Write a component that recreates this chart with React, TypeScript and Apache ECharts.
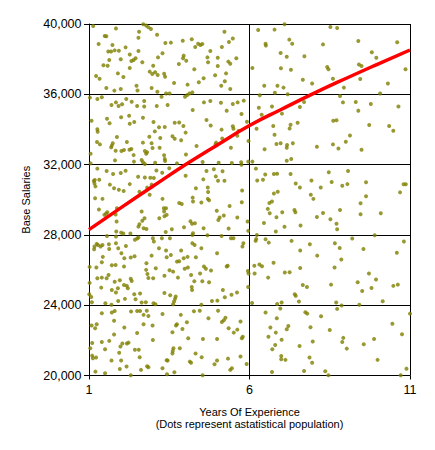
import React, { useEffect, useRef } from "react";
import * as echarts from "echarts";

// ---- axis settings / tick labels ----
const xTicks = [1, 6, 11];
const yTicks = [20000, 24000, 28000, 32000, 36000, 40000];

// ---- scatter population: [years of experience, base salary] ----
const dotsLeftBand1: number[][] = [
  [1.13,39890],[1.84,39750],[2.69,39980],[2.78,39910],[2.85,39810],[2.93,39720],[2.56,39560],[3.12,39390],[1.49,39320],[1.54,39300],[2.54,39220],[5.22,39560],[5.48,39170],[5.36,38980],[4.20,39130],[3.92,39050],[3.38,38920],[3.55,38940],[1.30,38860],[1.73,38800],[4.40,38880],[4.47,38800],[4.53,38860],[4.31,38690],[5.14,38690],[2.14,38670],[1.93,38480],[1.80,38500],[1.60,38430],[1.69,38430],[2.54,38460],[4.78,38460],[3.29,38330],[2.27,38270],[3.95,38200],[3.93,38050],[4.03,37910],[3.15,38100],[4.69,38100],[5.01,38080],[5.59,38050],[1.63,37950],[1.99,37990],[2.45,38050],[2.39,37950],[2.32,37890],[5.34,37860],[5.40,37740],[4.71,37820],[3.80,37720],[2.66,37820],[1.45,37650],[1.58,37630],[3.00,37630],[5.01,37610],[2.27,37500],[4.28,37420],[2.89,37290],[2.97,37150],[3.06,37250],[3.14,37100],[3.34,37170],[3.37,37000],[1.90,37190],[5.27,37190],[4.93,37080],[1.22,37040],[1.33,36890],[2.07,36980],[4.57,36910],[4.42,36680],[3.65,36640],[5.23,36740],[5.12,36490],[2.48,36490],[4.07,36550],[1.54,36360],[1.99,36300],[2.51,36220],[2.95,36360],[1.79,36210],[3.13,36150],[3.40,36040],[3.51,36040],[5.40,36300],[4.22,36110],[4.13,36040],[4.06,35960],[3.99,35860]
];
const dotsLeftBand2: number[][] = [
  [1.03,35810],[1.26,35730],[1.40,35830],[2.16,35730],[3.26,35860],[2.33,35580],[2.72,35620],[1.84,35540],[1.92,35330],[1.70,35390],[2.03,35430],[2.50,35330],[2.72,35310],[3.11,35330],[3.45,35390],[4.58,35540],[4.78,35620],[5.11,35520],[5.48,35450],[5.63,35540],[5.82,35640],[4.23,35110],[5.29,35070],[5.75,34880],[1.08,34500],[1.56,34610],[1.64,34350],[2.00,34690],[2.25,34780],[2.27,34330],[2.41,34420],[2.68,34670],[3.01,34420],[3.18,34120],[3.36,34140],[3.67,34380],[3.81,34400],[3.94,34200],[4.01,33820],[4.66,34540],[4.79,34230],[5.13,33990],[5.48,34180],[5.50,34040],[5.66,33910],[5.62,33640],[5.92,34440],[1.26,34010],[1.27,33870],[1.87,33570],[2.88,33590],[3.05,33890],[3.60,33610],[3.67,33470],[3.87,33380],[1.25,33280],[1.34,33150],[1.74,33210],[1.71,33080],[1.69,32980],[2.18,33280],[2.68,33250],[2.95,33210],[3.22,33510],[4.96,33250],[4.94,33150],[5.15,33490],[4.35,33060],[1.05,32620],[1.83,32790],[2.01,32770],[2.09,32830],[2.26,32850],[2.32,32890],[2.39,32540],[2.74,32770],[2.78,32620],[2.81,32700],[2.98,32940],[3.20,32960],[3.34,32530],[3.36,32320],[4.02,32580],[5.42,32960],[1.05,32070],[1.81,32240],[2.40,32170],[2.64,32260],[2.68,32130],[2.74,32030],[3.06,32110],[3.37,32200],[3.74,32070],[4.54,32150],[5.04,32110],[5.45,32090],[5.74,32130],[5.75,31990],[5.96,32170],[5.97,33340]
];
const dotsLeftBand3: number[][] = [
  [1.26,31770],[1.55,31630],[2.14,31650],[1.99,31520],[1.75,31460],[2.53,31310],[2.74,31270],[2.91,31250],[3.02,31240],[3.10,31670],[3.28,31540],[3.50,31790],[4.01,31370],[4.66,31630],[4.89,31730],[5.16,31620],[4.95,31330],[4.56,31160],[5.22,31080],[5.02,31080],[1.18,31120],[1.15,31070],[1.17,30930],[1.32,31140],[1.20,30760],[1.65,30860],[1.78,30650],[1.93,30570],[2.08,30500],[2.27,30890],[2.57,30460],[2.81,30690],[2.95,30860],[4.33,30650],[4.70,30700],[4.71,30440],[5.77,30530],
  [1.19,30090],[1.42,30050],[2.89,30280],[3.29,30050],[4.23,30120],[4.24,29900],[4.70,30050],[4.74,29970],[3.81,29820],[3.89,29760],[5.76,29860],[1.31,29440],[1.57,29290],[1.48,29140],[1.53,29210],[1.87,29520],[1.83,29160],[1.86,28760],[2.64,29330],[2.73,28950],[2.66,28800],[2.57,28610],[2.54,28470],[2.70,28380],[2.79,28340],[3.33,29520],[3.40,29520],[3.34,29330],[3.35,29060],[3.42,29140],[3.19,28950],[3.96,28440],[4.16,28780],[4.21,28640],[4.30,28660],[4.50,29840],[4.57,28380],[4.98,29380],[5.07,28990],[5.03,28850],[5.20,29100],[5.38,29650],[5.62,28990],[5.94,28760],[5.96,28230],[1.85,28190],[2.00,28130],[1.84,27910],[2.07,28080],[2.29,28080],[3.39,28170],[3.58,28320],[4.24,28090],[4.22,28000],[5.35,28360],[4.69,27980],[5.13,27940],[5.42,27810],[5.50,27810],[1.56,27940]
];
const dotsLeftBand4: number[][] = [
  [1.24,27490],[1.17,27340],[1.28,27430],[1.36,27340],[1.42,27430],[1.16,27180],[1.62,27470],[1.63,27200],[1.84,27530],[1.91,27240],[2.15,27370],[2.43,27720],[2.50,27790],[2.54,27850],[2.99,27810],[3.02,27620],[3.27,27810],[3.52,27810],[3.18,27240],[3.40,27110],[3.87,27110],[4.22,27530],[4.29,27430],[4.50,27240],[4.99,26960],[5.81,27530],[5.78,27340],[1.43,26750],[2.01,26960],[2.10,26670],[2.30,26710],[2.42,26790],[2.95,26820],[3.42,26730],[3.55,26860],[3.95,26670],[3.74,26480],[3.81,26500],[4.07,26750],[4.33,26730],[4.58,26200],[4.80,25970],[5.32,26250],[5.29,26200],[5.95,25950],[5.97,25800],[1.02,26180],[1.23,26140],[1.40,26440],[1.71,26270],[1.83,26290],[2.09,26200],[2.79,26390],[2.78,26010],[2.82,25780],[3.08,26100],[3.35,25670],[3.51,25990],[3.62,25910],[3.98,26070],[4.08,26140],[4.18,25720],[4.46,25800],[4.64,26080],[1.55,25530],[1.26,25530],[1.40,25570],[1.61,25720],[1.80,25340],[1.96,25420],[2.30,25510],[2.33,25380],[2.85,25550],[3.00,25530],[3.77,25570],[4.28,25360],[4.53,25360],[4.74,25310],[1.02,25270],[1.38,25000],[1.71,24870],[2.09,25150],[2.18,25100],[2.21,24960],[1.90,24960],[1.84,24720],[2.59,24660],[2.41,24620],[3.35,24700],[3.53,24570],[3.70,24490],[3.68,24360],[3.65,24210],[4.20,25040],[4.21,24870],[5.17,24870],[5.44,24590],[5.61,24720],[5.96,25040],[1.01,24620],[1.07,24470],[1.09,24170],[1.51,24110],[1.70,24020],[1.91,24240],[2.12,24360],[2.45,24340],[2.64,24150],[2.77,24170],[3.01,24110],[3.07,24050],[3.62,24050],[4.50,24020],[4.83,24240],[5.00,24260],[5.23,24450]
];
const dotsLeftBand5: number[][] = [
  [1.40,23540],[1.71,23580],[1.80,23670],[2.31,23640],[2.50,23670],[2.59,23670],[2.80,23690],[2.85,23390],[2.70,23450],[3.29,23500],[3.86,23450],[4.27,23660],[4.45,23690],[4.72,23260],[5.02,23690],[5.25,23280],[5.20,23140],[5.14,23050],[5.72,23070],[1.08,22840],[1.24,22920],[1.19,22690],[1.78,23110],[2.10,22730],[2.50,22420],[2.70,22920],[2.98,22840],[3.60,22460],[3.74,22920],[3.71,22840],[3.91,22650],[4.05,23030],[4.09,22120],[4.55,22080],[4.99,22080],[5.35,22690],[5.51,22440],[5.62,22610],[5.79,22210],[1.40,21910],[1.63,21970],[1.78,22330],[1.10,21850],[1.50,21490],[2.04,21820],[2.18,21820],[2.23,21870],[1.98,21650],[1.04,21550],[1.10,21130],[1.12,20980],[1.22,21020],[1.70,20850],[1.94,21300],[2.00,20850],[2.43,21460],[2.55,21460],[2.58,21040],[2.99,22020],[3.63,21550],[3.61,21400],[3.60,21250],[3.83,21550],[3.42,20870],[3.45,20850],[4.14,20790],[4.18,20730],[4.32,21250],[4.51,21040],[4.91,20640],[4.99,20850],[5.33,20960],[5.40,20320],[5.45,20410],[5.72,21080],[5.76,22120],[1.20,20220],[1.50,20130],[1.96,20370],[2.17,20510],[2.62,20320],[2.81,20530],[2.85,20470],[3.29,20410],[3.66,20180],[3.43,20070],[4.54,20020],[2.30,20020]
];
const dotsRightUpper: number[][] = [
  [6.27,39660],[6.78,39680],[7.09,39980],[8.52,39830],[8.73,39770],[6.50,38880],[6.51,38770],[7.24,39110],[7.33,38880],[8.29,38840],[9.39,39030],[10.60,38960],[6.97,38350],[7.16,38140],[7.71,38160],[9.81,38390],[9.95,38080],[6.09,37500],[6.98,37480],[7.29,37400],[8.42,37550],[8.46,37420],[9.41,37690],[9.49,37610],[10.86,37420],[7.66,36830],[7.95,36620],[8.60,36890],[9.45,36870],[6.46,36490],[6.87,36490],[7.06,36380],[6.79,36090],[7.19,36000],[8.94,36380],[10.31,36620],[10.07,36040],[8.82,35900],[6.32,35940],[6.29,35240],[6.70,35300],[6.38,34840],[7.01,34900],[7.57,35280],[7.70,35560],[8.91,35540],[9.31,35560],[9.39,35070],[9.78,35450],[10.64,35310],[6.22,34040],[6.74,34200],[7.28,34270],[7.25,34060],[7.50,34380],[8.61,34500],[8.71,34520],[9.73,34250],[10.35,34200],[10.48,33930],[9.13,33660],[6.78,33700],[6.84,33170],[6.97,33210],[7.17,33110],[7.16,32960],[7.35,33210],[8.10,33020],[8.60,33150],[8.77,32920],[9.00,33300],[9.49,32850],[6.47,32870],[6.09,32170],[7.16,32220],[7.30,32320],[6.20,31770],[6.49,31440],[6.76,31460],[6.86,31480],[7.28,31460],[8.47,31560],[9.07,31630],[6.24,31100],[6.42,31140],[7.44,30930],[7.57,30700],[7.93,31100],[8.22,30700],[8.56,31010],[8.89,30800],[9.05,30890],[9.63,30990],[10.80,30880],[10.87,30880],[10.69,30420],[6.76,30360],[6.88,30460]
];
const dotsRightLower: number[][] = [
  [7.91,30280],[7.99,30050],[9.63,30200],[6.62,29820],[6.70,29900],[6.57,29480],[6.63,29230],[7.02,29290],[7.40,29420],[7.43,29290],[6.84,29010],[8.10,29020],[8.29,29250],[8.82,29420],[9.46,29800],[9.46,29180],[10.09,29230],[8.52,28890],[6.45,28680],[6.82,28190],[7.09,28460],[7.59,28530],[8.71,28630],[8.73,28320],[6.23,28000],[6.19,27660],[6.21,27770],[6.50,27750],[6.60,27560],[7.31,27660],[7.88,27470],[8.66,27530],[8.81,27260],[7.58,27110],[8.11,26820],[9.20,27790],[9.90,27980],[9.55,27200],[10.81,27620],[10.59,26990],[8.86,26600],[6.15,26250],[6.31,26310],[6.39,26220],[6.16,25800],[6.58,25570],[6.75,26410],[7.10,25860],[7.25,25880],[7.58,26120],[8.65,26140],[9.72,25800],[9.94,25460],[9.37,25310],[7.66,25150],[7.79,25040],[8.54,25170],[9.51,24810],[9.80,24980],[10.48,25100],[10.62,25170],[7.41,24620],[7.44,24530],[7.54,24210],[6.08,24130],[6.86,24070],[7.00,24150],[6.96,23810],[8.70,24150],[8.87,23980],[8.73,23790],[9.42,24020],[10.15,24220],
  [6.50,23580],[6.85,23260],[7.74,23600],[7.80,23520],[8.23,23370],[11.00,23520],[6.65,22730],[6.82,22440],[7.21,22820],[7.16,22630],[7.90,22750],[8.50,22590],[10.45,22950],[10.75,22350],[6.59,22200],[7.00,22040],[7.97,21930],[8.92,22140],[8.89,21910],[9.88,22080],[9.56,21780],[6.80,21740],[6.71,21490],[7.56,21680],[9.03,21530],[6.99,21110],[6.99,20920],[7.12,20890],[7.87,21020],[7.95,20730],[9.99,20890],[5.91,20660],[6.70,20200],[7.70,20260],[8.36,20240],[8.46,20010],[10.71,20010],[10.89,20390]
];

// ---- trend curve ----
const trendYears = [1, 2, 3, 4, 5, 6, 7, 8, 9, 10, 11];
const trendSalaries = [28300, 29550, 30780, 31990, 33120, 34220, 35150, 36050, 36900, 37720, 38520];

const FONT = "'Liberation Sans', Arial, sans-serif";

export default function App() {
  const ref = useRef<HTMLDivElement>(null);
  useEffect(() => {
    const chart = echarts.init(ref.current as HTMLDivElement, null, { renderer: "svg" });
    const population = [
      ...dotsLeftBand1, ...dotsLeftBand2, ...dotsLeftBand3, ...dotsLeftBand4, ...dotsLeftBand5,
      ...dotsRightUpper, ...dotsRightLower,
    ];
    const trend = trendYears.map((x, i) => [x, trendSalaries[i]]);
    chart.setOption({
      animation: false,
      backgroundColor: "#ffffff",
      grid: { left: 89, right: 25, top: 24, bottom: 74.5 },
      xAxis: {
        type: "value",
        min: xTicks[0],
        max: xTicks[xTicks.length - 1],
        interval: xTicks[1] - xTicks[0],
        axisLine: { show: true, lineStyle: { color: "#000", width: 1 } },
        axisTick: { show: true, length: 4, lineStyle: { color: "#000" } },
        axisLabel: { color: "#000", fontSize: 12.5, fontFamily: FONT, margin: 8 },
        splitLine: { show: true, lineStyle: { color: "#000", width: 1 } },
        name: "Years Of Experience\n(Dots represent astatistical population)",
        nameLocation: "middle",
        nameGap: 31,
        nameTextStyle: { color: "#000", fontSize: 11, fontFamily: FONT, lineHeight: 11.6 },
      },
      yAxis: {
        type: "value",
        min: yTicks[0],
        max: yTicks[yTicks.length - 1],
        interval: yTicks[1] - yTicks[0],
        axisLine: { show: true, lineStyle: { color: "#000", width: 1 } },
        axisTick: { show: true, length: 5, lineStyle: { color: "#000" } },
        axisLabel: {
          color: "#000",
          fontSize: 12.5,
          fontFamily: FONT,
          margin: 7.5,
          formatter: (v: number) => v.toLocaleString("en-US"),
        },
        splitLine: { show: true, lineStyle: { color: "#000", width: 1 } },
        name: "Base Salaries",
        nameLocation: "middle",
        nameGap: 58,
        nameTextStyle: { color: "#000", fontSize: 11, fontFamily: FONT },
      },
      series: [
        {
          type: "scatter",
          data: population,
          symbol: "circle",
          symbolSize: 4,
          itemStyle: { color: "#808000" },
          z: 2,
        },
        {
          type: "line",
          data: trend,
          smooth: true,
          showSymbol: false,
          lineStyle: { color: "#ff0000", width: 3.5 },
          z: 3,
        },
      ],
    });
    return () => chart.dispose();
  }, []);
  return (
    <div
      ref={ref}
      style={{ position: "absolute", left: 0, top: 0, width: 435, height: 450 }}
    />
  );
}
